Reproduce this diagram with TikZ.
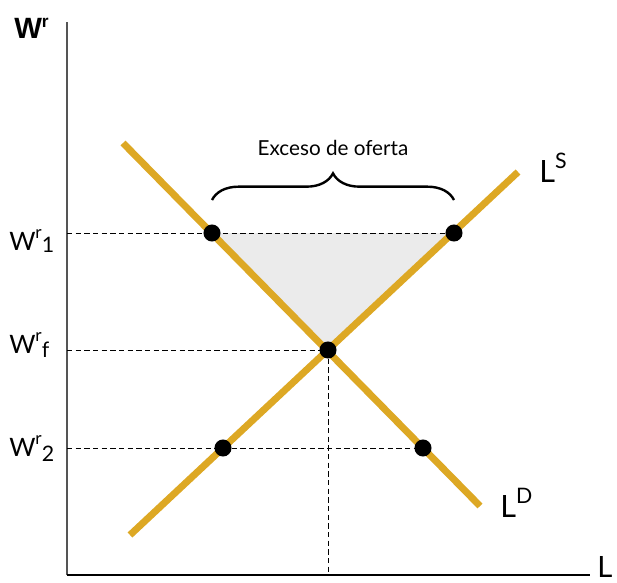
\documentclass[tikz,border=0pt]{standalone}
\usepackage{fontspec}
\setmainfont{Lato}
\newfontfamily\boldsans{Liberation Sans}
\usetikzlibrary{decorations.pathreplacing}
\definecolor{gold}{HTML}{DDA824}
\definecolor{trigray}{HTML}{EBEBEB}
\definecolor{axisgray}{HTML}{555555}
\begin{document}
\begin{tikzpicture}[x=0.75pt,y=-0.75pt,
  curve/.style={draw=gold,line width=5.2pt},
  guide/.style={draw=black,line width=0.7pt,dash pattern=on 4pt off 2.5pt},
  dot/.style={circle,fill=black,inner sep=0pt,minimum size=12.8pt},
  lbl/.style={inner sep=0pt,anchor=base west}]
\useasboundingbox (0,0) rectangle (617,582);
% axes
\coordinate (O) at (67,575);
\coordinate (ytop) at (67,22);
\coordinate (xend) at (590,575);
\draw[axisgray,line width=1.6pt] (O) -- (ytop);
\draw[black,line width=1.2pt] (O) -- (xend);
% points
\coordinate (p1) at (212,233);
\coordinate (p2) at (454,233);
\coordinate (pf) at (328,350);
\coordinate (q1) at (223,448);
\coordinate (q2) at (423,448);
% shaded triangle
\fill[trigray] (p1) -- (p2) -- (pf) -- cycle;
% guides
\coordinate (a1) at (67,233);
\coordinate (af) at (67,350);
\coordinate (a2) at (67,448);
\coordinate (bf) at (328,575);
\draw[guide] (a1) -- (p2);
\draw[guide] (af) -- (pf);
\draw[guide] (a2) -- (q2);
\draw[guide] (pf) -- (bf);
% curves
\coordinate (ds) at (123,143);
\coordinate (de) at (480,506);
\coordinate (ss) at (130,535);
\coordinate (se) at (518,172);
\draw[curve] (ds) -- (de);
\draw[curve] (ss) -- (se);
% dots
\node[dot] (n1) at (p1) {};
\node[dot] (n2) at (p2) {};
\node[dot] (nf) at (pf) {};
\node[dot] (m1) at (q1) {};
\node[dot] (m2) at (q2) {};
% brace
\coordinate (bl) at (212,200);
\coordinate (br) at (454,200);
\draw[line width=1.8pt,decorate,decoration={brace,amplitude=20pt}] (bl) -- (br);
\node[inner sep=0pt,anchor=base,font=\fontsize{15.5}{18}\selectfont] (exc) at (333,155) {Exceso de oferta};
% labels
\node[lbl] (wr) at (14,38) {\boldsans\bfseries\fontsize{22}{24}\selectfont W\raisebox{8pt}{\fontsize{13}{13}\selectfont r}};
\node[lbl] (w1) at (9,250) {\fontsize{19}{20}\selectfont W\raisebox{9pt}{\fontsize{13}{13}\selectfont r}\raisebox{-2pt}{\fontsize{16}{16}\selectfont 1}};
\node[lbl] (wf) at (9,353) {\fontsize{19}{20}\selectfont W\raisebox{9pt}{\fontsize{13}{13}\selectfont r}\raisebox{-3pt}{\fontsize{16}{16}\selectfont f}};
\node[lbl] (w2) at (9,456) {\fontsize{19}{20}\selectfont W\raisebox{9pt}{\fontsize{13}{13}\selectfont r}\raisebox{-4pt}{\fontsize{16}{16}\selectfont 2}};
\node[lbl] (ls) at (539,182) {\fontsize{23}{26}\selectfont L\raisebox{10pt}{\fontsize{16}{16}\selectfont S}};
\node[lbl] (ld) at (500,517) {\fontsize{23}{26}\selectfont L\raisebox{10pt}{\fontsize{16}{16}\selectfont D}};
\node[lbl] (lx) at (597,577) {\fontsize{22}{26}\selectfont L};
\end{tikzpicture}
\end{document}
